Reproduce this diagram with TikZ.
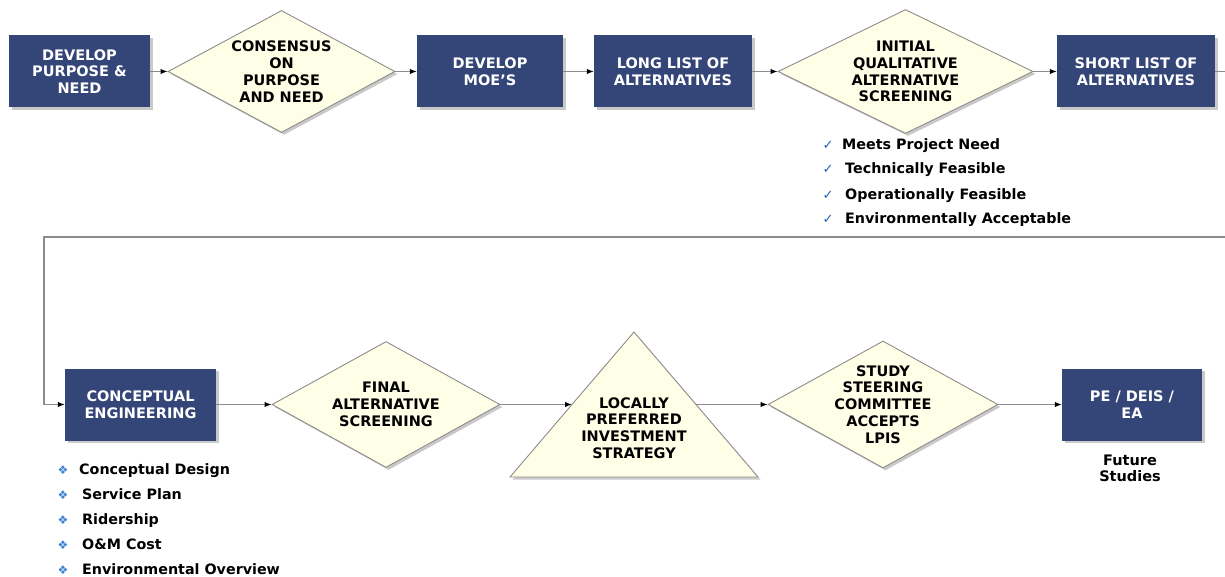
\documentclass[tikz,border=0pt]{standalone}
\usepackage{fontspec}
\setmainfont{DejaVu Sans}
\usetikzlibrary{arrows.meta,shapes.geometric,shadows,calc}
\definecolor{boxblue}{RGB}{52,69,120}
\definecolor{cream}{RGB}{255,255,232}
\definecolor{linegray}{RGB}{140,140,140}
\definecolor{tickblue}{RGB}{40,100,180}
\definecolor{bulletblue}{RGB}{60,130,210}
\begin{document}
\begin{tikzpicture}[x=1pt,y=-1pt,
  shad/.style={drop shadow={shadow xshift=2.5pt,shadow yshift=-2.5pt,fill=black!30,opacity=0.7}},
  box/.style={shad,fill=boxblue,draw=none,text=white,inner sep=0pt,
    font=\bfseries\fontsize{14.5}{16.8}\selectfont,align=center,minimum height=72pt},
  dia/.style={shad,diamond,aspect=1.9,inner sep=0pt,fill=cream,draw=linegray,line width=0.9pt,
    font=\bfseries\fontsize{14.5}{16.8}\selectfont,align=center},
  conn/.style={draw=linegray,line width=1.2pt,-{Latex[length=7pt,width=5.5pt,color=black]}},
  plain/.style={draw=linegray,line width=1.2pt},
  item/.style={anchor=base west,inner sep=0pt,font=\bfseries\fontsize{14.3}{16}\selectfont},
  tick/.style={anchor=base,inner sep=0pt,text=tickblue,font=\bfseries\fontsize{13}{14}\selectfont},
  bul/.style={anchor=base,inner sep=0pt,text=bulletblue,font=\fontsize{12}{14}\selectfont}]
\useasboundingbox (0,0) rectangle (1225,577);
% top row
\node[box,minimum width=141pt] (b1) at (79.5,71.5) {DEVELOP\\PURPOSE \&\\NEED};
\node[dia,minimum width=227pt,minimum height=122pt] (d1) at (281.5,71.5) {CONSENSUS\\ON\\PURPOSE\\AND NEED};
\node[box,minimum width=146pt] (b2) at (490,71.5) {DEVELOP\\MOE’S};
\node[box,minimum width=158pt] (b3) at (673,71.5) {LONG LIST OF\\ALTERNATIVES};
\node[dia,minimum width=255pt,minimum height=124pt] (d2) at (905.5,71.5) {INITIAL\\QUALITATIVE\\ALTERNATIVE\\SCREENING};
\node[box,minimum width=158pt] (b4) at (1136,71.5) {SHORT LIST OF\\ALTERNATIVES};
% bottom row
\node[box,minimum width=151pt] (b5) at (140.5,404.5) {CONCEPTUAL\\ENGINEERING};
\node[dia,minimum width=228pt,minimum height=126pt] (d3) at (386,404.5) {FINAL\\ALTERNATIVE\\SCREENING};
\coordinate (tA) at (634,332);
\coordinate (tL) at (510,477);
\coordinate (tR) at (758,477);
\path[shad,fill=cream,draw=linegray,line width=0.9pt,line join=miter] (tA) -- (tR) -- (tL) -- cycle;
\node[font=\bfseries\fontsize{14.5}{16.8}\selectfont,align=center,inner sep=0pt] (tri) at (634,428) {LOCALLY\\PREFERRED\\INVESTMENT\\STRATEGY};
\coordinate (triW) at ($(tA)!0.5!(tL)$);
\coordinate (triE) at ($(tA)!0.5!(tR)$);
\node[dia,inner sep=-10pt,minimum width=230pt,minimum height=127pt] (d4) at (883,404.5) {STUDY\\STEERING\\COMMITTEE\\ACCEPTS\\LPIS};
\node[box,minimum width=140pt] (b6) at (1132,404.5) {PE / DEIS /\\EA};
\node[font=\bfseries\fontsize{14.5}{16}\selectfont,align=center,inner sep=0pt] (fs) at (1130,468) {Future\\Studies};
% connectors
\draw[conn] (b1.east) -- (d1.west);
\draw[conn] (d1.east) -- (b2.west);
\draw[conn] (b2.east) -- (b3.west);
\draw[conn] (b3.east) -- (d2.west);
\draw[conn] (d2.east) -- (b4.west);
\coordinate (edgeA) at (1225,71.5);
\coordinate (edgeB) at (1225,237);
\coordinate (turn) at (44,237);
\draw[plain] (b4.east) -- (edgeA);
\draw[conn] (edgeB) -- (turn) |- (b5.west);
\draw[conn] (b5.east) -- (d3.west);
\draw[conn] (d3.east) -- (triW);
\draw[conn] (triE) -- (d4.west);
\draw[conn] (d4.east) -- (b6.west);
% check list
\node[tick] (c1) at (828,150) {✓};
\node[item] (t1) at (842,150) {Meets Project Need};
\node[tick] (c2) at (828,174) {✓};
\node[item] (t2) at (845,174) {Technically Feasible};
\node[tick] (c3) at (828,199.5) {✓};
\node[item] (t3) at (845,199.5) {Operationally Feasible};
\node[tick] (c4) at (828,224) {✓};
\node[item] (t4) at (845,224) {Environmentally Acceptable};
% bullet list
\node[bul] (u1) at (63,474) {❖};
\node[item] (v1) at (79,474.5) {Conceptual Design};
\node[bul] (u2) at (63,499) {❖};
\node[item] (v2) at (82,499.5) {Service Plan};
\node[bul] (u3) at (63,524) {❖};
\node[item] (v3) at (82,524.5) {Ridership};
\node[bul] (u4) at (63,549) {❖};
\node[item] (v4) at (82,549.5) {O\&M Cost};
\node[bul] (u5) at (63,574) {❖};
\node[item] (v5) at (82,574.5) {Environmental Overview};
\end{tikzpicture}
\end{document}
